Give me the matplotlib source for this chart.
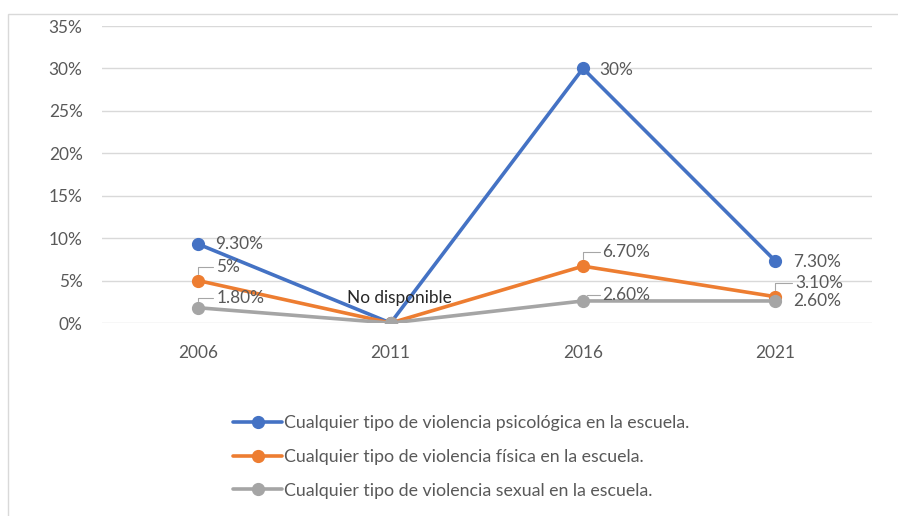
import matplotlib
matplotlib.use("Agg")
import matplotlib.pyplot as plt
from matplotlib.patches import Rectangle
from matplotlib.ticker import FuncFormatter, MultipleLocator

years = ["2006", "2011", "2016", "2021"]
psico = [9.3, 0.0, 30.0, 7.3]
fisica = [5.0, 0.0, 6.7, 3.1]
sexual = [1.8, 0.0, 2.6, 2.6]
psico_lbl = ["9.30%", None, "30%", "7.30%"]
fisica_lbl = ["5%", None, "6.70%", "3.10%"]
sexual_lbl = ["1.80%", None, "2.60%", "2.60%"]
na_label = "No disponible"
series_names = [
    "Cualquier tipo de violencia psicológica en la escuela.",
    "Cualquier tipo de violencia física en la escuela.",
    "Cualquier tipo de violencia sexual en la escuela.",
]
colors = ["#4472C4", "#ED7D31", "#A5A5A5"]
TXT = "#595959"
FONT = "Lato"
FS = 12.4

plt.rcParams["font.family"] = [FONT, "DejaVu Sans"]

fig = plt.figure(figsize=(8.98, 5.16), dpi=100)
ax = fig.add_axes([0.1136, 0.374, 0.857, 0.5756])
fig.patches.append(Rectangle((8/898, -0.01), 1.0, 1 - 14/516 + 0.01, transform=fig.transFigure,
                             fill=False, edgecolor="#D9D9D9", linewidth=1.0))

x = list(range(len(years)))
handles = []
for vals, c, name in zip([psico, fisica, sexual], colors, series_names):
    h, = ax.plot(x, vals, color=c, lw=2.6, marker="o", ms=8.5, label=name,
                 solid_capstyle="round", zorder=3)
    handles.append(h)

def lab(i, val, text, dx, dy, leader=False):
    if text is None:
        return
    if leader:
        ax.annotate(text, xy=(i, val), xytext=(dx, dy), textcoords="offset points",
                    ha="left", va="center", fontsize=FS, color=TXT,
                    arrowprops=dict(arrowstyle="-", color="#A6A6A6", lw=0.8,
                                    shrinkA=0, shrinkB=5,
                                    connectionstyle="angle,angleA=0,angleB=90,rad=0"))
    else:
        ax.annotate(text, xy=(i, val), xytext=(dx, dy), textcoords="offset points",
                    ha="left", va="center", fontsize=FS, color=TXT)

# psicologica
lab(0, psico[0], psico_lbl[0], 12, 0)
lab(2, psico[2], psico_lbl[2], 12, -1)
lab(3, psico[3], psico_lbl[3], 13, -1)
# fisica
lab(0, fisica[0], fisica_lbl[0], 13, 10, leader=True)
lab(2, fisica[2], fisica_lbl[2], 14, 10, leader=True)
lab(3, fisica[3], fisica_lbl[3], 14, 10, leader=True)
# sexual
lab(0, sexual[0], sexual_lbl[0], 13, 7, leader=True)
lab(2, sexual[2], sexual_lbl[2], 14, 4, leader=True)
lab(3, sexual[3], sexual_lbl[3], 13, 0)
ax.annotate(na_label, xy=(1, 0), xytext=(6, 18), textcoords="offset points",
            ha="center", va="center", fontsize=FS, color="#262626")

ax.set_xlim(-0.5, len(years) - 0.5)
ax.set_ylim(0, 35)
ax.yaxis.set_major_locator(MultipleLocator(5))
ax.yaxis.set_major_formatter(FuncFormatter(lambda v, p: f"{v:.0f}%"))
ax.set_xticks(x)
ax.set_xticklabels(years)
ax.grid(axis="y", color="#D9D9D9", lw=1.0, zorder=0)
for s in ax.spines.values():
    s.set_visible(False)
ax.tick_params(axis="both", length=0, labelsize=FS, labelcolor=TXT)
ax.tick_params(axis="y", pad=14)
ax.tick_params(axis="x", pad=16)
ax.set_axisbelow(True)

leg = fig.legend(handles=handles, loc="upper left", bbox_to_anchor=(226/898, 1 - 408/516),
                 frameon=False, fontsize=12.8, labelcolor=TXT, handlelength=2.75,
                 handletextpad=0.1, labelspacing=1.0, borderaxespad=0)

fig.savefig("out.png", dpi=100)
